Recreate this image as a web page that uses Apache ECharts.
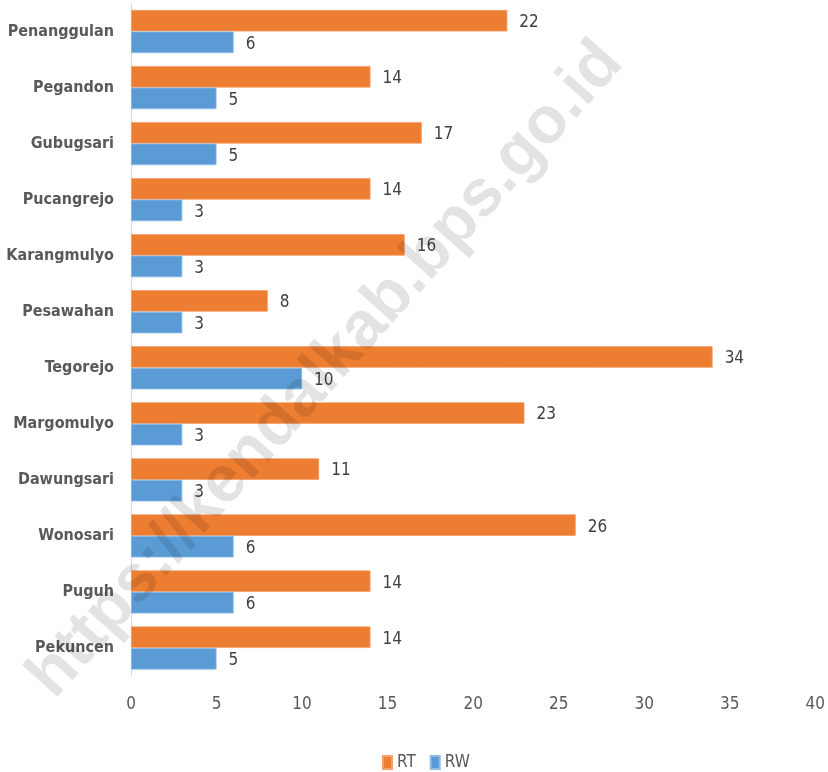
<!DOCTYPE html>
<html>
<head>
<meta charset="utf-8">
<script src="https://cdn.jsdelivr.net/npm/echarts@6/dist/echarts.min.js"></script>
<style>
  html, body { margin: 0; padding: 0; background: #fff; }
  #chart { width: 828px; height: 772px; }
</style>
</head>
<body>
<div id="chart"></div>
<script>
const desa = ['Penanggulan', 'Pegandon', 'Gubugsari', 'Pucangrejo', 'Karangmulyo', 'Pesawahan',
  'Tegorejo', 'Margomulyo', 'Dawungsari', 'Wonosari', 'Puguh', 'Pekuncen'];
const rt = [22, 14, 17, 14, 16, 8, 34, 23, 11, 26, 14, 14];
const rw = [6, 5, 5, 3, 3, 3, 10, 3, 3, 6, 6, 5];
const xTicks = [0, 5, 10, 15, 20, 25, 30, 35, 40];

const font = "'DejaVu Sans Condensed', sans-serif";

var myChart = echarts.init(document.getElementById('chart'));
option = {
  animation: false,
  textStyle: { fontFamily: font },
  grid: {
    left: 131,
    right: 11,
    top: 3.5,
    height: 672.5
  },
  legend: {
    top: 749,
    left: 377,
    itemWidth: 9,
    itemHeight: 13,
    itemGap: 14,
    icon: 'rect',
    textStyle: { color: '#595959', fontSize: 17, fontFamily: font },
    data: ['RT', 'RW']
  },
  xAxis: {
    type: 'value',
    min: xTicks[0],
    max: xTicks[xTicks.length - 1],
    interval: 5,
    splitLine: { show: false },
    axisLine: { show: false },
    axisTick: { show: false },
    axisLabel: { color: '#595959', fontSize: 17, margin: 20, fontFamily: font }
  },
  yAxis: {
    type: 'category',
    inverse: true,
    data: desa,
    axisLine: { show: true, lineStyle: { color: '#d9d9d9', width: 1 } },
    axisTick: { show: false },
    axisLabel: { color: '#595959', fontSize: 16, fontWeight: 'bold', margin: 17, fontFamily: font }
  },
  series: [
    {
      name: 'RT',
      type: 'bar',
      data: rt,
      barGap: 0,
      barCategoryGap: '23%',
      itemStyle: { color: '#ed7d31', borderColor: '#f4a16d', borderWidth: 0.8 },
      label: { show: true, position: 'right', distance: 12, offset: [0, 2], color: '#404040', fontSize: 17, fontFamily: font }
    },
    {
      name: 'RW',
      type: 'bar',
      data: rw,
      itemStyle: { color: '#5b9bd5', borderColor: '#8cbbe6', borderWidth: 0.8 },
      label: { show: true, position: 'right', distance: 12, offset: [0, 2], color: '#404040', fontSize: 17, fontFamily: font }
    }
  ],
  graphic: [
    {
      type: 'text',
      x: 326,
      y: 370,
      rotation: 0.84,
      z: 100,
      silent: true,
      style: {
        text: 'https://kendalkab.bps.go.id',
        align: 'center',
        verticalAlign: 'middle',
        fill: 'rgba(0,0,0,0.11)',
        font: "bold 66px 'Liberation Sans', sans-serif"
      }
    }
  ]
};
myChart.setOption(option);
</script>
</body>
</html>
